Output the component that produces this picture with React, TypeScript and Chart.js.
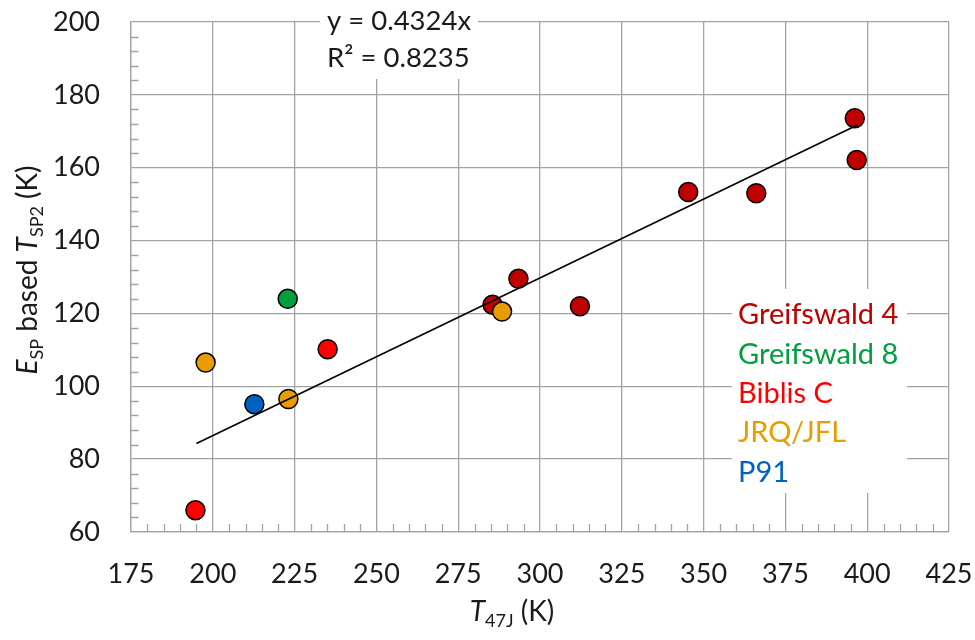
import { useEffect, useRef } from "react";
import { Chart, registerables } from "chart.js";

Chart.register(...registerables);

// ---- data ----
const TREND_X = [195, 397];
const TREND_Y = [84.3, 171.7];

const GREIFSWALD4_X = [285.5, 293.4, 312.2, 345.3, 366.1, 396.2, 396.8];
const GREIFSWALD4_Y = [122.4, 129.5, 122.0, 153.3, 153.0, 173.6, 162.1];
const GREIFSWALD8_X = [222.9];
const GREIFSWALD8_Y = [124.0];
const BIBLIS_X = [194.7, 235.1];
const BIBLIS_Y = [66.0, 110.2];
const JRQ_X = [197.8, 223.1, 288.4];
const JRQ_Y = [106.5, 96.5, 120.5];
const P91_X = [212.7];
const P91_Y = [95.1];

const SERIES_NAMES = ["Greifswald 4", "Greifswald 8", "Biblis C", "JRQ/JFL", "P91"];
const SERIES_COLORS = ["#C00000", "#00A03E", "#FF0000", "#E89C00", "#0062C0"];

const X_MIN = 175, X_MAX = 425, X_STEP = 25, X_MINOR = 5;
const Y_MIN = 60, Y_MAX = 200, Y_STEP = 20, Y_MINOR = 4;

const EQUATION_LINES = ["y = 0.4324x", "R² = 0.8235"];

const FONT = "Lato, 'Open Sans', sans-serif";
const GRID = "#a3a3a3";
const TEXT = "#1a1a1a";

const pts = (xs: number[], ys: number[]) => xs.map((x, i) => ({ x, y: ys[i] }));

const overlayPlugin = {
  id: "overlay",
  beforeDatasetsDraw(chart: any) {
    const { ctx } = chart;
    const xs = chart.scales.x;
    const ys = chart.scales.y;
    ctx.save();
    ctx.strokeStyle = GRID;
    ctx.lineWidth = 1.3;
    ctx.beginPath();
    for (let v = X_MIN; v <= X_MAX; v += X_MINOR) {
      if ((v - X_MIN) % X_STEP === 0) continue;
      const px = Math.round(xs.getPixelForValue(v)) + 0.5;
      ctx.moveTo(px, ys.bottom);
      ctx.lineTo(px, ys.bottom - 8);
    }
    for (let v = Y_MIN; v <= Y_MAX; v += Y_MINOR) {
      if ((v - Y_MIN) % Y_STEP === 0) continue;
      const py = Math.round(ys.getPixelForValue(v)) + 0.5;
      ctx.moveTo(xs.left, py);
      ctx.lineTo(xs.left + 7.5, py);
    }
    ctx.stroke();
    ctx.restore();
  },
  afterDraw(chart: any) {
    const { ctx, chartArea } = chart;
    const L = chartArea.left;
    const T = chartArea.top;
    ctx.save();
    // equation box
    ctx.fillStyle = "#ffffff";
    ctx.fillRect(L + 189, 0, 158, T + 57);
    ctx.fillStyle = TEXT;
    ctx.font = `27.5px ${FONT}`;
    ctx.textBaseline = "middle";
    ctx.textAlign = "left";
    EQUATION_LINES.forEach((s, i) => ctx.fillText(s, L + 196, T - 1 + i * 37));

    // legend box
    ctx.fillStyle = "#ffffff";
    ctx.fillRect(L + 601, T + 267, 175, 204);
    ctx.font = `29px ${FONT}`;
    SERIES_NAMES.forEach((s, i) => {
      ctx.fillStyle = SERIES_COLORS[i];
      ctx.fillText(s, L + 607, T + 293 + i * 39.3);
    });

    // axis titles
    const drawRich = (parts: { t: string; it?: boolean; sub?: boolean }[], x: number, y: number, rot: boolean) => {
      ctx.save();
      ctx.translate(x, y);
      if (rot) ctx.rotate(-Math.PI / 2);
      const fontOf = (p: any) => `${p.it ? "italic " : ""}${p.sub ? 18 : 28}px ${FONT}`;
      let w = 0;
      parts.forEach((p) => { ctx.font = fontOf(p); w += ctx.measureText(p.t).width; });
      let cx = -w / 2;
      ctx.fillStyle = TEXT;
      ctx.textAlign = "left";
      ctx.textBaseline = "alphabetic";
      parts.forEach((p) => {
        ctx.font = fontOf(p);
        ctx.fillText(p.t, cx, 10 + (p.sub ? 6 : 0));
        cx += ctx.measureText(p.t).width;
      });
      ctx.restore();
    };
    drawRich(
      [
        { t: "E", it: true }, { t: "SP", sub: true }, { t: " based " },
        { t: "T", it: true }, { t: "SP2", sub: true }, { t: " (K)" },
      ],
      27, 270, true
    );
    drawRich([{ t: "T", it: true }, { t: "47J", sub: true }, { t: " (K)" }], 512, 611, false);
    ctx.restore();
  },
};

export default function App() {
  const ref = useRef<HTMLCanvasElement>(null);
  useEffect(() => {
    document.body.style.margin = "0";
    const series = [
      { x: GREIFSWALD4_X, y: GREIFSWALD4_Y },
      { x: GREIFSWALD8_X, y: GREIFSWALD8_Y },
      { x: BIBLIS_X, y: BIBLIS_Y },
      { x: JRQ_X, y: JRQ_Y },
      { x: P91_X, y: P91_Y },
    ];
    const scatterSets = series.map((s, i) => ({
      type: "scatter" as const,
      label: SERIES_NAMES[i],
      data: pts(s.x, s.y),
      backgroundColor: SERIES_COLORS[i],
      borderColor: "#000000",
      borderWidth: 1.5,
      pointRadius: 9.5,
      pointHoverRadius: 9.5,
    }));
    // drawing order: orange above dark red
    const order = [4, 3, 1, 2, 0];
    const chart = new Chart(ref.current!, {
      type: "scatter",
      data: {
        datasets: [
          {
            type: "line",
            label: "trend",
            data: pts(TREND_X, TREND_Y),
            borderColor: "#000000",
            borderWidth: 1.6,
            pointRadius: 0,
            fill: false,
          } as any,
          ...order.map((i) => scatterSets[i]),
        ],
      },
      options: {
        animation: false,
        responsive: true,
        maintainAspectRatio: false,
        layout: { padding: { top: 22, right: 26, left: 0, bottom: 0 } },
        plugins: { legend: { display: false }, tooltip: { enabled: false } },
        scales: {
          x: {
            type: "linear",
            min: X_MIN,
            max: X_MAX,
            ticks: { stepSize: X_STEP, padding: 26, color: TEXT, font: { family: FONT, size: 27 } },
            grid: { color: GRID, lineWidth: 1.3, drawTicks: false },
            border: { color: GRID, width: 1.3 },
            afterFit: (s: any) => { s.height = 108; s.paddingLeft = 0; s.paddingRight = 0; },
          },
          y: {
            type: "linear",
            min: Y_MIN,
            max: Y_MAX,
            ticks: { stepSize: Y_STEP, padding: 31, color: TEXT, font: { family: FONT, size: 27 } },
            grid: { color: GRID, lineWidth: 1.3, drawTicks: false },
            border: { color: GRID, width: 1.3 },
            afterFit: (s: any) => { s.width = 131; s.paddingTop = 0; s.paddingBottom = 0; },
          },
        },
      },
      plugins: [overlayPlugin],
    });
    return () => chart.destroy();
  }, []);
  return (
    <div style={{ width: 975, height: 640, position: "relative" }}>
      <canvas ref={ref} />
    </div>
  );
}
